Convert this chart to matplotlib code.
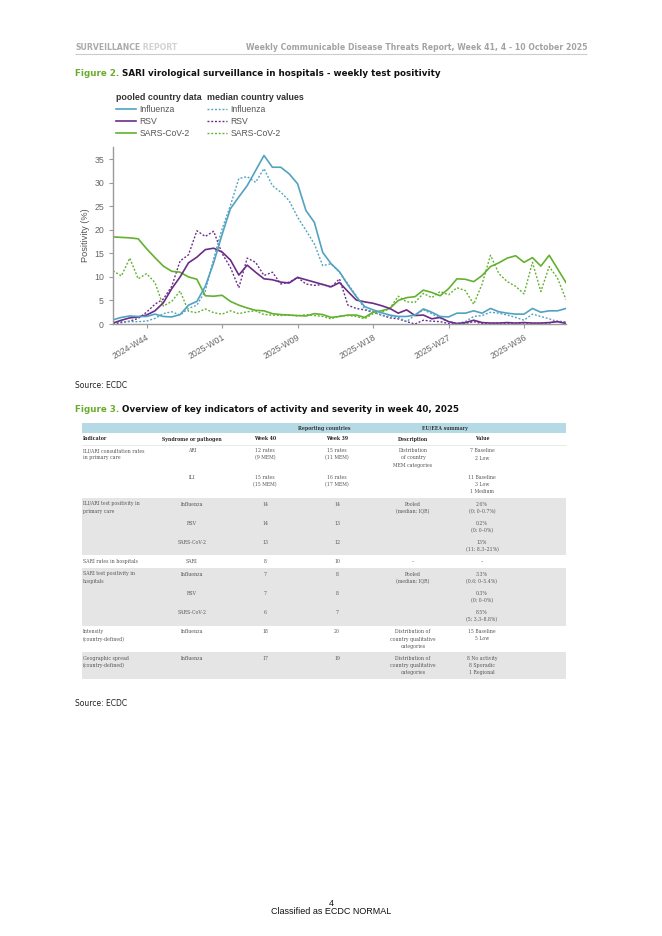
import numpy as np
import matplotlib
matplotlib.use('Agg')
import matplotlib.pyplot as plt
from matplotlib.patches import Rectangle

# weekly test positivity (%), 2024-W40 onwards
flu_pooled = [0.9, 1.4, 1.7, 1.6, 1.6, 2.1, 1.6, 1.5, 2.0, 4.0, 4.8, 8.0, 13.0, 19.0, 24.5,
              27.0, 29.4, 32.6, 35.8, 33.3, 33.3, 31.9, 29.8, 24.1, 21.6, 15.2, 12.8, 11.1,
              8.3, 5.8, 3.7, 3.0, 2.4, 1.9, 1.6, 1.6, 1.9, 3.2, 2.5, 1.6, 1.5, 2.3, 2.3, 2.8,
              2.3, 3.3, 2.6, 2.3, 2.1, 2.1, 3.3, 2.5, 2.8, 2.8, 3.3]
rsv_pooled = [0.2, 0.8, 1.3, 1.5, 1.9, 2.8, 4.5, 7.5, 10.0, 13.0, 14.2, 15.8, 16.1, 15.3, 13.6,
              10.4, 12.5, 11.0, 9.6, 9.4, 8.9, 8.7, 9.9, 9.4, 8.9, 8.4, 7.9, 8.8, 6.9, 5.1,
              4.7, 4.4, 3.9, 3.3, 2.3, 3.0, 1.8, 1.9, 1.1, 1.4, 0.5, 0.1, 0.3, 0.8, 0.3, 0.2,
              0.2, 0.3, 0.2, 0.3, 0.2, 0.2, 0.3, 0.5, 0.1]
cov_pooled = [18.5, 18.4, 18.3, 18.1, 16.0, 14.1, 12.3, 11.2, 11.0, 10.0, 9.5, 6.0, 5.9, 6.1,
              4.8, 4.0, 3.4, 2.9, 2.8, 2.2, 2.0, 1.9, 1.8, 1.7, 2.2, 2.0, 1.4, 1.6, 1.9, 1.9,
              1.4, 2.5, 2.8, 3.3, 5.0, 5.6, 5.8, 7.2, 6.7, 6.0, 7.5, 9.6, 9.5, 9.0, 10.3, 12.2,
              13.0, 14.0, 14.5, 13.1, 14.1, 12.3, 14.6, 11.7, 8.8]
flu_median = [0.3, 0.5, 0.5, 0.5, 0.6, 1.2, 2.2, 2.6, 1.9, 3.3, 4.0, 7.0, 13.9, 20.2, 25.2,
              30.9, 31.3, 30.1, 33.0, 29.4, 28.0, 26.2, 22.7, 19.9, 17.0, 12.4, 12.8, 11.0,
              8.5, 6.0, 3.2, 2.6, 1.9, 1.6, 1.4, 0.5, 1.9, 3.0, 2.2, 1.2, 0.5, 0.1, 0.5, 1.6,
              1.8, 2.5, 2.3, 1.9, 1.4, 0.8, 2.1, 1.6, 1.1, 0.5, 0.4]
rsv_median = [0.0, 0.3, 0.6, 1.2, 2.5, 4.2, 5.3, 8.0, 13.4, 14.7, 19.8, 18.6, 19.7, 15.0, 12.0,
              7.7, 14.0, 13.1, 10.3, 11.0, 8.5, 8.9, 9.9, 8.5, 8.2, 8.4, 7.8, 9.6, 4.0, 3.3,
              3.0, 2.5, 1.9, 1.3, 1.1, 0.5, 0.0, 0.8, 0.6, 0.5, 0.1, 0.0, 0.1, 0.5, 0.1, 0.1,
              0.2, 0.1, 0.1, 0.0, 0.1, 0.1, 0.2, 0.6, 0.4]
cov_median = [11.3, 10.2, 14.0, 9.6, 10.7, 8.8, 3.8, 4.8, 7.0, 2.7, 2.4, 3.2, 2.4, 2.1, 2.8,
              2.2, 2.6, 2.8, 2.0, 1.9, 1.8, 1.9, 1.7, 2.0, 1.8, 1.6, 1.1, 1.7, 1.8, 1.6, 1.1,
              2.2, 2.5, 3.3, 5.9, 4.7, 4.6, 6.5, 5.6, 6.9, 6.2, 7.7, 7.1, 4.2, 8.5, 14.6, 10.7,
              9.0, 8.0, 6.4, 13.1, 6.9, 12.2, 9.7, 5.2]
series_names = ['Influenza', 'RSV', 'SARS-CoV-2']
tick_labels = ['2024-W44', '2025-W01', '2025-W09', '2025-W18', '2025-W27', '2025-W36']

# Figure 3 table
table_rows = [
    ("ILI/ARI consultation rates\nin primary care", "ARI", "12 rates\n(9 MEM)", "15 rates\n(11 MEM)",
     "Distribution\nof country\nMEM categories", "7 Baseline\n2 Low"),
    ("", "ILI", "15 rates\n(15 MEM)", "16 rates\n(17 MEM)", "", "11 Baseline\n3 Low\n1 Medium"),
    ("ILI/ARI test positivity in\nprimary care", "Influenza", "14", "14", "Pooled\n(median; IQR)",
     "2.6%\n(0; 0\u20130.7%)"),
    ("", "RSV", "14", "13", "", "0.2%\n(0; 0\u20130%)"),
    ("", "SARS-CoV-2", "13", "12", "", "13%\n(11; 8.3\u201321%)"),
    ("SARI rates in hospitals", "SARI", "8", "10", "\u2013", "\u2013"),
    ("SARI test positivity in\nhospitals", "Influenza", "7", "8", "Pooled\n(median; IQR)",
     "3.3%\n(0.6; 0\u20135.4%)"),
    ("", "RSV", "7", "8", "", "0.3%\n(0; 0\u20130%)"),
    ("", "SARS-CoV-2", "6", "7", "", "8.5%\n(5; 3.3\u20138.8%)"),
    ("Intensity\n(country-defined)", "Influenza", "18", "20",
     "Distribution of\ncountry qualitative\ncategories", "15 Baseline\n5 Low"),
    ("Geographic spread\n(country-defined)", "Influenza", "17", "19",
     "Distribution of\ncountry qualitative\ncategories", "8 No activity\n8 Sporadic\n1 Regional"),
]
table_header = ["Indicator", "Syndrome or pathogen", "Week 40", "Week 39", "Description", "Value"]

# layout (page pixels)
col_x = [83, 192, 265, 337, 413, 482]
row_y = [450.7, 477.3, 504, 523.3, 542.3, 561.7, 574, 593.3, 612.3, 631.7, 658.3]
grey_bands = [(498.3, 555), (567.7, 625.7), (652.3, 679)]
line_step = 7.3

flu_c, rsv_c, cov_c = '#52a2c0', '#6b2c88', '#63b12f'
grey_txt = '#666666'

fig = plt.figure(figsize=(6.62, 9.36), dpi=100)
pg = fig.add_axes([0, 0, 1, 1])
pg.set_xlim(0, 662)
pg.set_ylim(936, 0)
pg.axis('off')

# page header
hdr = pg.text(75, 47, 'SURVEILLANCE', fontsize=5.6, weight='bold', color='#ababab', va='center')
pg.annotate(' REPORT', xy=(1, 0), xycoords=hdr, va='bottom', fontsize=5.6, weight='bold', color='#d2d2d2')
pg.text(587, 47, 'Weekly Communicable Disease Threats Report, Week 41, 4 - 10 October 2025',
        fontsize=5.6, weight='bold', color='#a3a3a3', va='center', ha='right')
pg.hlines(54, 75, 587, color='#cccccc', lw=0.8)

t2 = pg.text(75, 73, 'Figure 2.', fontsize=6.3, weight='bold', color='#6aad2c', va='center')
pg.annotate(' SARI virological surveillance in hospitals - weekly test positivity', xy=(1, 0),
            xycoords=t2, va='bottom', fontsize=6.3, weight='bold', color='#111111')
pg.text(75, 385, 'Source: ECDC', fontsize=5.5, color='#222222', va='center')
t3 = pg.text(75, 409, 'Figure 3.', fontsize=6.3, weight='bold', color='#6aad2c', va='center')
pg.annotate(' Overview of key indicators of activity and severity in week 40, 2025', xy=(1, 0),
            xycoords=t3, va='bottom', fontsize=6.3, weight='bold', color='#111111')
pg.text(75, 703, 'Source: ECDC', fontsize=5.5, color='#222222', va='center')

# table
pg.add_patch(Rectangle((81.7, 423.3), 566 - 81.7, 10, color='#b5dae5', lw=0))
for top, bot in grey_bands:
    pg.add_patch(Rectangle((81.7, top), 566 - 81.7, bot - top, color='#e5e5e5', lw=0))
pg.hlines(445, 81.7, 566, color='#e0e0e0', lw=0.5)
tfont = dict(family='DejaVu Serif', fontsize=3.3)
pg.text(324, 428.5, 'Reporting countries', ha='center', va='center', weight='bold', color='#333333', **tfont)
pg.text(445, 428.5, 'EU/EEA summary', ha='center', va='center', weight='bold', color='#333333', **tfont)
for j, h in enumerate(table_header):
    pg.text(col_x[j], 439, h, ha='left' if j == 0 else 'center', va='center', weight='bold',
            color='#222222', **tfont)
for row, y0 in zip(table_rows, row_y):
    for j, cell in enumerate(row):
        for k, line in enumerate(cell.split('\n')):
            pg.text(col_x[j], y0 + k * line_step, line, ha='left' if j == 0 else 'center',
                    va='center', color='#555555', **tfont)

# footer
pg.text(331, 903, '4', fontsize=6.5, family='Liberation Sans', ha='center', va='center', color='#111111')
pg.text(331, 912, 'Classified as ECDC NORMAL', fontsize=6.5, family='Liberation Sans',
        ha='center', va='center', color='#111111')

# chart
ax = fig.add_axes([113 / 662, 1 - 324 / 936, (566 - 113) / 662, (324 - 147) / 936])
x = np.arange(len(flu_pooled))
dots = (0, (1.4, 1.3))
m1, = ax.plot(x, cov_median, color=cov_c, lw=1.0, ls=dots)
m2, = ax.plot(x, rsv_median, color=rsv_c, lw=1.0, ls=dots)
m3, = ax.plot(x, flu_median, color=flu_c, lw=1.0, ls=dots)
p1, = ax.plot(x, cov_pooled, color=cov_c, lw=1.2)
p2, = ax.plot(x, rsv_pooled, color=rsv_c, lw=1.2)
p3, = ax.plot(x, flu_pooled, color=flu_c, lw=1.2)
ax.set_xlim(0, len(x) - 1)
ax.set_ylim(0, 37.6)
for s in ['top', 'right']:
    ax.spines[s].set_visible(False)
for s in ['left', 'bottom']:
    ax.spines[s].set_color('#9a9a9a')
    ax.spines[s].set_linewidth(1.0)
ax.set_yticks(np.arange(0, 36, 5))
ax.set_xticks(np.arange(4, len(x), 9))
ax.set_xticklabels(tick_labels, rotation=30, ha='right', rotation_mode='anchor')
ax.tick_params(axis='both', colors='#9a9a9a', labelcolor=grey_txt, labelsize=6.3, length=3, width=0.8)
for lab in ax.get_xticklabels() + ax.get_yticklabels():
    lab.set_family('Liberation Sans')
ax.set_ylabel('Positivity (%)', fontsize=6.6, color='#555555', family='Liberation Sans', labelpad=3)

legkw = dict(loc='upper left', frameon=False, alignment='left', handlelength=2.3,
             handletextpad=0.45, labelspacing=0.38, borderpad=0, borderaxespad=0,
             title_fontproperties={'weight': 'bold', 'size': 6.4, 'family': 'Liberation Sans'},
             prop={'family': 'Liberation Sans', 'size': 6.2})
leg1 = fig.legend([p3, p2, p1], series_names, title='pooled country data',
                  bbox_to_anchor=(116 / 662, 1 - 92.5 / 936), **legkw)
leg2 = fig.legend([m3, m2, m1], series_names, title='median country values',
                  bbox_to_anchor=(207 / 662, 1 - 92.5 / 936), **legkw)
for leg in (leg1, leg2):
    leg.get_title().set_color('#333333')
    for t in leg.get_texts():
        t.set_color('#555555')

fig.savefig('out.png', dpi=100)
